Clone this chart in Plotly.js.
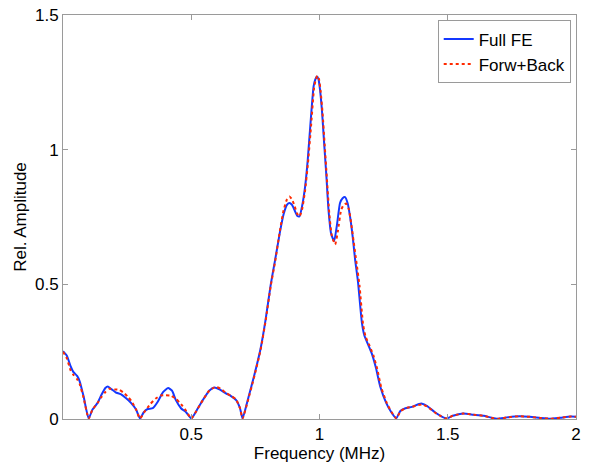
<!DOCTYPE html>
<html>
<head>
<meta charset="utf-8">
<script src="https://cdn.plot.ly/plotly-3.0.1.min.js"></script>
<style>html,body{margin:0;padding:0;background:#fff;}#chart{width:589px;height:468px;}</style>
</head>
<body>
<div id="chart"></div>
<script>
const fullFreq = [0.000,0.015,0.030,0.040,0.055,0.065,0.080,0.100,0.115,0.135,0.150,0.165,0.175,0.190,0.205,0.225,0.245,0.265,0.285,0.300,0.315,0.330,0.350,0.370,0.390,0.410,0.425,0.440,0.460,0.480,0.500,0.520,0.545,0.570,0.590,0.610,0.635,0.655,0.675,0.690,0.700,0.720,0.745,0.770,0.790,0.810,0.827,0.845,0.860,0.873,0.883,0.893,0.903,0.913,0.922,0.932,0.944,0.954,0.964,0.977,0.984,0.990,0.996,1.002,1.010,1.018,1.027,1.035,1.045,1.057,1.068,1.080,1.090,1.100,1.110,1.119,1.129,1.139,1.150,1.165,1.175,1.190,1.205,1.220,1.237,1.260,1.280,1.299,1.315,1.335,1.360,1.385,1.400,1.420,1.450,1.475,1.495,1.520,1.560,1.600,1.640,1.670,1.695,1.730,1.780,1.820,1.860,1.900,1.940,1.980,2.000];
const fullAmp  = [0.252,0.235,0.195,0.175,0.160,0.140,0.085,0.002,0.035,0.060,0.090,0.115,0.121,0.110,0.099,0.092,0.078,0.060,0.035,0.002,0.025,0.037,0.040,0.065,0.100,0.115,0.105,0.070,0.040,0.025,0.002,0.030,0.070,0.105,0.117,0.110,0.095,0.085,0.070,0.040,0.002,0.070,0.160,0.260,0.370,0.500,0.591,0.690,0.760,0.795,0.802,0.795,0.775,0.755,0.752,0.790,0.864,0.960,1.087,1.235,1.262,1.272,1.262,1.223,1.140,1.025,0.900,0.777,0.690,0.660,0.720,0.802,0.820,0.824,0.800,0.752,0.680,0.591,0.510,0.360,0.310,0.275,0.240,0.190,0.120,0.060,0.025,0.002,0.030,0.040,0.045,0.055,0.057,0.048,0.025,0.010,0.002,0.012,0.020,0.016,0.012,0.005,0.001,0.006,0.010,0.008,0.004,0.001,0.005,0.009,0.008];

const fbFreq = [0.000,0.015,0.030,0.040,0.055,0.065,0.080,0.100,0.115,0.135,0.150,0.165,0.180,0.200,0.220,0.240,0.255,0.270,0.285,0.300,0.320,0.340,0.360,0.380,0.400,0.420,0.440,0.460,0.480,0.500,0.520,0.545,0.570,0.595,0.615,0.635,0.655,0.675,0.690,0.700,0.720,0.745,0.770,0.790,0.810,0.827,0.845,0.860,0.873,0.883,0.893,0.903,0.913,0.922,0.932,0.944,0.955,0.966,0.979,0.986,0.992,0.998,1.004,1.012,1.020,1.029,1.038,1.048,1.061,1.072,1.084,1.094,1.104,1.114,1.123,1.133,1.145,1.156,1.170,1.180,1.195,1.210,1.225,1.241,1.263,1.282,1.300,1.315,1.335,1.360,1.385,1.400,1.420,1.450,1.475,1.495,1.520,1.560,1.600,1.640,1.670,1.695,1.730,1.780,1.820,1.860,1.900,1.940,1.980,2.000];
const fbAmp  = [0.250,0.225,0.180,0.165,0.148,0.130,0.080,0.002,0.035,0.060,0.082,0.100,0.112,0.110,0.108,0.095,0.080,0.062,0.035,0.002,0.030,0.055,0.075,0.087,0.088,0.087,0.075,0.055,0.030,0.002,0.030,0.070,0.105,0.119,0.112,0.097,0.086,0.072,0.040,0.002,0.065,0.155,0.255,0.365,0.495,0.585,0.695,0.775,0.815,0.826,0.815,0.790,0.762,0.752,0.778,0.850,0.950,1.075,1.230,1.262,1.275,1.262,1.220,1.135,1.020,0.890,0.765,0.680,0.648,0.700,0.775,0.795,0.800,0.780,0.730,0.660,0.575,0.495,0.350,0.305,0.272,0.236,0.186,0.116,0.058,0.024,0.002,0.028,0.040,0.045,0.052,0.054,0.046,0.024,0.010,0.002,0.012,0.020,0.016,0.012,0.005,0.001,0.006,0.010,0.008,0.004,0.001,0.005,0.009,0.008];

const seriesNames = ["Full FE", "Forw+Back"];
const xTickVals = [0.5, 1, 1.5, 2];
const xTickText = ["0.5", "1", "1.5", "2"];
const yTickVals = [0, 0.5, 1, 1.5];
const yTickText = ["0", "0.5", "1", "1.5"];

const font = {family: "Liberation Sans, Arial, Helvetica, sans-serif", size: 17, color: "#000"};
const frame = "#9a9a9a";

const traces = [
  {x: fullFreq, y: fullAmp, name: seriesNames[0], type: "scatter", mode: "lines",
   line: {color: "#1438ff", width: 2, shape: "spline", smoothing: 0.5}},
  {x: fbFreq, y: fbAmp, name: seriesNames[1], type: "scatter", mode: "lines",
   line: {color: "#ff2a00", width: 2, dash: "dot", shape: "spline", smoothing: 0.5}}
];

const axisCommon = {
  showgrid: false, zeroline: false, showline: true, linecolor: frame, linewidth: 1,
  mirror: "allticks", ticks: "inside", ticklen: 5, tickcolor: frame, tickwidth: 1,
  tickfont: font
};

const layout = {
  width: 589, height: 468,
  margin: {l: 63, r: 13, t: 15, b: 49},
  paper_bgcolor: "#fff", plot_bgcolor: "#fff",
  font: font,
  showlegend: true,
  legend: {x: 0.9897, xanchor: "right", y: 0.9866, yanchor: "top",
           bordercolor: frame, borderwidth: 1, bgcolor: "#fff", font: font,
           tracegroupgap: 0},
  xaxis: Object.assign({}, axisCommon, {
    range: [0, 2], tickvals: xTickVals, ticktext: xTickText,
    title: {text: "Frequency (MHz)", font: font, standoff: 2}
  }),
  yaxis: Object.assign({}, axisCommon, {
    range: [0, 1.5], tickvals: yTickVals, ticktext: yTickText,
    title: {text: "Rel. Amplitude", font: font, standoff: 4}
  })
};

Plotly.newPlot("chart", traces, layout, {displayModeBar: false, staticPlot: true});
</script>
</body>
</html>
